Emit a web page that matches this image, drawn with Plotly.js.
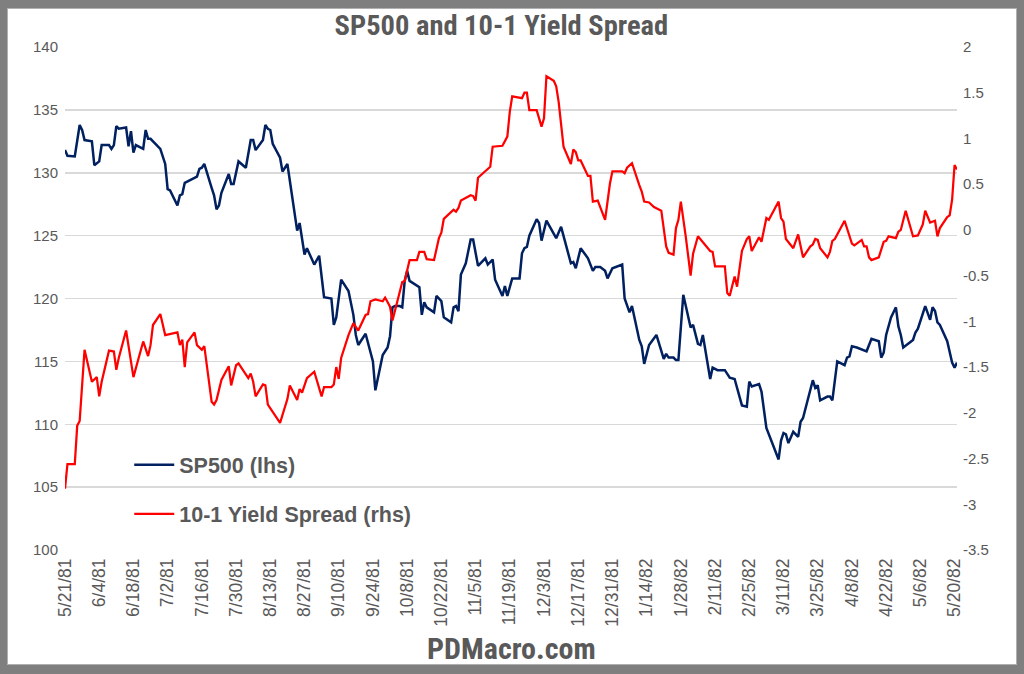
<!DOCTYPE html>
<html>
<head>
<meta charset="utf-8">
<script src="https://cdn.plot.ly/plotly-3.0.1.min.js"></script>
<style>
  html, body { margin: 0; padding: 0; width: 1024px; height: 674px; background: #7f7f7f; overflow: hidden; }
  #chart { position: absolute; left: 7px; top: 8px; width: 1010px; height: 657px; background: #ffffff; box-shadow: inset 0 0 0 1px #b0b0b0; }
</style>
</head>
<body>
<div id="chart"></div>
<script>
// ---- Data ----
const spDates = ['1981-05-21','1981-05-22','1981-05-25','1981-05-27','1981-05-28','1981-05-29','1981-06-01','1981-06-02','1981-06-04','1981-06-05',
'1981-06-08','1981-06-09','1981-06-10','1981-06-11','1981-06-12','1981-06-15','1981-06-16','1981-06-17','1981-06-18','1981-06-19',
'1981-06-22','1981-06-23','1981-06-24','1981-06-25','1981-06-29','1981-07-01','1981-07-02','1981-07-03','1981-07-06','1981-07-07',
'1981-07-08','1981-07-09','1981-07-14','1981-07-15','1981-07-16','1981-07-17','1981-07-20','1981-07-21','1981-07-22','1981-07-23',
'1981-07-24','1981-07-27','1981-07-28','1981-07-29','1981-07-31','1981-08-03','1981-08-05','1981-08-06','1981-08-07','1981-08-10',
'1981-08-11','1981-08-12','1981-08-13','1981-08-14','1981-08-17','1981-08-18','1981-08-20','1981-08-22','1981-08-24','1981-08-25',
'1981-08-27','1981-08-28','1981-08-31','1981-09-02','1981-09-04','1981-09-07','1981-09-08','1981-09-09','1981-09-11','1981-09-14',
'1981-09-16','1981-09-17','1981-09-18','1981-09-21','1981-09-23','1981-09-24','1981-09-25','1981-09-28','1981-09-30','1981-10-01',
'1981-10-02','1981-10-03','1981-10-05','1981-10-06','1981-10-07','1981-10-08','1981-10-09','1981-10-13','1981-10-14','1981-10-15',
'1981-10-16','1981-10-19','1981-10-20','1981-10-22','1981-10-23','1981-10-26','1981-10-27','1981-10-28','1981-10-29','1981-10-30',
'1981-11-01','1981-11-03','1981-11-04','1981-11-06','1981-11-09','1981-11-10','1981-11-12','1981-11-13','1981-11-16','1981-11-17',
'1981-11-18','1981-11-20','1981-11-23','1981-11-24','1981-11-25','1981-11-26','1981-11-27','1981-11-30','1981-12-01','1981-12-02',
'1981-12-04','1981-12-08','1981-12-10','1981-12-14','1981-12-15','1981-12-16','1981-12-18','1981-12-21','1981-12-23','1981-12-24',
'1981-12-26','1981-12-28','1981-12-29','1981-12-31','1982-01-04','1982-01-05','1982-01-07','1982-01-08','1982-01-11','1982-01-12',
'1982-01-13','1982-01-15','1982-01-18','1982-01-20','1982-01-21','1982-01-22','1982-01-23','1982-01-25','1982-01-26','1982-01-27',
'1982-01-29','1982-02-01','1982-02-02','1982-02-04','1982-02-05','1982-02-06','1982-02-09','1982-02-10','1982-02-12','1982-02-15',
'1982-02-17','1982-02-19','1982-02-22','1982-02-24','1982-02-25','1982-02-26','1982-03-01','1982-03-02','1982-03-03','1982-03-04',
'1982-03-09','1982-03-10','1982-03-11','1982-03-12','1982-03-13','1982-03-15','1982-03-17','1982-03-18','1982-03-19','1982-03-23',
'1982-03-24','1982-03-25','1982-03-26','1982-03-29','1982-03-30','1982-03-31','1982-04-02','1982-04-05','1982-04-06','1982-04-07',
'1982-04-08','1982-04-10','1982-04-14','1982-04-16','1982-04-19','1982-04-20','1982-04-21','1982-04-22','1982-04-24','1982-04-26',
'1982-04-27','1982-04-28','1982-04-29','1982-05-01','1982-05-03','1982-05-04','1982-05-05','1982-05-08','1982-05-10','1982-05-11',
'1982-05-12','1982-05-13','1982-05-14','1982-05-17','1982-05-19','1982-05-20','1982-05-21'];
const spValues = [131.8,131.35,131.3,133.8,133.4,132.6,132.5,130.6,130.9,132.2,
132.2,131.9,132.2,133.7,133.5,133.6,132.1,133.3,131.6,132.2,
131.9,133.4,132.7,132.7,131.9,130.7,128.7,128.6,127.4,128.2,
128.3,129.2,129.7,130.3,130.4,130.7,128.8,128.2,127.1,127.4,
128.4,129.9,129.1,129.1,130.9,130.4,132.6,132.6,131.8,132.6,
133.8,133.5,133.4,132.3,131.2,130.1,130.7,128.0,125.4,126.0,
123.5,124.0,122.7,123.4,120.1,120.0,117.9,118.5,121.5,120.6,
118.7,117.1,116.3,117.2,115.7,115.0,112.7,115.5,116.1,117.0,
119.3,119.4,119.4,119.3,121.4,122.2,121.4,120.9,118.7,119.7,
119.3,118.9,120.2,119.8,118.5,118.1,119.3,119.4,119.0,121.9,
122.8,124.7,124.7,122.6,123.2,122.7,123.1,121.5,120.2,121.0,
120.2,121.6,121.6,123.6,124.0,124.1,125.0,126.3,126.0,124.6,
126.2,124.8,125.7,122.8,122.9,122.4,124.0,123.2,122.2,122.5,
122.5,122.2,121.6,122.4,122.7,120.0,118.9,119.4,116.7,116.2,
114.8,116.3,117.1,115.7,115.2,115.6,115.3,115.3,115.1,115.1,
120.3,117.7,117.9,116.4,116.3,117.1,113.6,114.5,114.3,114.3,
113.7,113.6,111.5,111.4,113.4,113.0,113.2,112.6,110.9,109.7,
107.2,108.7,109.3,109.2,108.5,109.4,109.0,110.2,110.5,113.5,
112.9,113.1,111.9,112.2,112.2,111.9,115.0,114.7,115.3,115.4,
116.2,116.1,115.8,116.8,116.6,115.3,115.7,117.1,118.5,119.3,
117.8,117.1,116.1,116.4,116.7,117.3,117.6,119.4,118.3,119.3,
119.0,118.1,117.9,116.6,114.9,114.5,114.9];

const spreadDates = ['1981-05-21','1981-05-22','1981-05-25','1981-05-26','1981-05-27','1981-05-29','1981-06-01','1981-06-03','1981-06-04','1981-06-05',
'1981-06-08','1981-06-10','1981-06-11','1981-06-12','1981-06-15','1981-06-18','1981-06-22','1981-06-24','1981-06-25','1981-06-26',
'1981-06-29','1981-07-01','1981-07-06','1981-07-07','1981-07-08','1981-07-09','1981-07-10','1981-07-13','1981-07-14','1981-07-15',
'1981-07-16','1981-07-17','1981-07-20','1981-07-21','1981-07-22','1981-07-24','1981-07-25','1981-07-27','1981-07-28','1981-07-30',
'1981-07-31','1981-08-04','1981-08-05','1981-08-06','1981-08-07','1981-08-10','1981-08-11','1981-08-12','1981-08-17','1981-08-20',
'1981-08-21','1981-08-24','1981-08-25','1981-08-26','1981-08-28','1981-08-31','1981-09-03','1981-09-04','1981-09-07','1981-09-08',
'1981-09-09','1981-09-10','1981-09-11','1981-09-14','1981-09-16','1981-09-18','1981-09-21','1981-09-22','1981-09-23','1981-09-25',
'1981-09-28','1981-09-29','1981-10-01','1981-10-02','1981-10-06','1981-10-07','1981-10-09','1981-10-12','1981-10-13','1981-10-15',
'1981-10-16','1981-10-19','1981-10-21','1981-10-22','1981-10-23','1981-10-27','1981-10-28','1981-10-29','1981-10-30','1981-11-03',
'1981-11-04','1981-11-05','1981-11-06','1981-11-11','1981-11-12','1981-11-16','1981-11-18','1981-11-19','1981-11-20','1981-11-24',
'1981-11-25','1981-11-26','1981-11-27','1981-11-30','1981-12-01','1981-12-02','1981-12-03','1981-12-04','1981-12-07','1981-12-08',
'1981-12-09','1981-12-11','1981-12-14','1981-12-15','1981-12-16','1981-12-17','1981-12-18','1981-12-21','1981-12-22','1981-12-23',
'1981-12-25','1981-12-28','1981-12-30','1981-12-31','1982-01-04','1982-01-05','1982-01-06','1982-01-08','1982-01-11','1982-01-12',
'1982-01-13','1982-01-15','1982-01-17','1982-01-20','1982-01-22','1982-01-23','1982-01-25','1982-01-26','1982-01-27','1982-01-28',
'1982-01-30','1982-02-01','1982-02-02','1982-02-04','1982-02-09','1982-02-10','1982-02-11','1982-02-15','1982-02-16','1982-02-17',
'1982-02-19','1982-02-20','1982-02-22','1982-02-24','1982-02-25','1982-02-26','1982-03-01','1982-03-02','1982-03-04','1982-03-05',
'1982-03-09','1982-03-10','1982-03-11','1982-03-12','1982-03-15','1982-03-17','1982-03-19','1982-03-22','1982-03-23','1982-03-24',
'1982-03-25','1982-03-26','1982-03-29','1982-03-30','1982-03-31','1982-04-01','1982-04-05','1982-04-07','1982-04-08','1982-04-09',
'1982-04-12','1982-04-13','1982-04-14','1982-04-15','1982-04-16','1982-04-19','1982-04-21','1982-04-22','1982-04-23','1982-04-26',
'1982-04-27','1982-04-28','1982-04-30','1982-05-03','1982-05-05','1982-05-07','1982-05-08','1982-05-10','1982-05-12','1982-05-13',
'1982-05-14','1982-05-17','1982-05-18','1982-05-19','1982-05-20','1982-05-21'];
const spreadValues = [-2.83,-2.56,-2.56,-2.14,-2.09,-1.31,-1.66,-1.61,-1.82,-1.66,
-1.32,-1.33,-1.53,-1.40,-1.10,-1.61,-1.22,-1.38,-1.26,-1.04,
-0.92,-1.15,-1.12,-1.26,-1.20,-1.50,-1.23,-1.12,-1.26,-1.28,
-1.31,-1.27,-1.88,-1.91,-1.86,-1.64,-1.59,-1.49,-1.70,-1.48,
-1.46,-1.62,-1.57,-1.66,-1.82,-1.69,-1.70,-1.91,-2.11,-1.85,
-1.70,-1.86,-1.74,-1.78,-1.62,-1.55,-1.82,-1.72,-1.72,-1.69,
-1.50,-1.63,-1.40,-1.15,-1.02,-1.10,-0.93,-0.92,-0.78,-0.76,
-0.78,-0.74,-0.84,-0.99,-0.57,-0.56,-0.33,-0.33,-0.24,-0.24,
-0.32,-0.33,-0.09,-0.03,0.12,0.22,0.20,0.24,0.32,0.38,
0.37,0.32,0.57,0.69,0.91,0.92,1.02,1.29,1.46,1.44,
1.50,1.50,1.31,1.31,1.22,1.13,1.22,1.68,1.63,1.57,
1.40,0.91,0.72,0.88,0.85,0.76,0.76,0.59,0.59,0.31,
0.32,0.11,0.51,0.64,0.64,0.62,0.68,0.73,0.49,0.42,
0.31,0.30,0.25,0.21,-0.18,-0.25,-0.27,0.02,0.11,0.31,
-0.07,-0.50,-0.26,-0.07,-0.23,-0.24,-0.40,-0.40,-0.69,-0.72,
-0.51,-0.62,-0.23,-0.10,-0.07,-0.23,-0.08,-0.13,0.13,0.11,
0.31,0.13,0.09,-0.10,-0.20,-0.05,-0.30,-0.18,-0.16,-0.10,
-0.11,-0.20,-0.30,-0.24,-0.12,-0.10,0.10,-0.07,-0.15,-0.17,
-0.11,-0.18,-0.18,-0.30,-0.33,-0.30,-0.13,-0.12,-0.07,-0.09,
-0.02,0.00,0.21,-0.07,-0.06,0.06,0.21,0.08,0.10,-0.07,
0.02,0.14,0.16,0.33,0.71,0.66];

const leftTicks = [100,105,110,115,120,125,130,135,140];
const rightTickVals = [-3.5,-3,-2.5,-2,-1.5,-1,-0.5,0,0.5,1,1.5,2];
const rightTickText = ['-3.5','-3','-2.5','-2','-1.5','-1','-0.5','0','0.5','1','1.5','2'];
const seriesNames = ['SP500 (lhs)', '10-1 Yield Spread (rhs)'];
const chartTitle = 'SP500 and 10-1 Yield Spread';
const sourceText = 'PDMacro.com';

// ---- Chart ----
const grey = '#595959';
const narrow = "'Liberation Sans Narrow', 'Arial Narrow', 'Roboto Condensed', sans-serif";
const regular = "'Liberation Sans', Arial, sans-serif";

const traces = [
  { x: spDates, y: spValues, name: seriesNames[0], type: 'scatter', mode: 'lines',
    line: { color: '#002060', width: 2.5 }, yaxis: 'y', legendgroup: 'a' },
  { x: spreadDates, y: spreadValues, name: seriesNames[1], type: 'scatter', mode: 'lines',
    line: { color: '#ff0000', width: 2.25 }, yaxis: 'y2', legendgroup: 'b' }
];

const layout = {
  width: 1010, height: 657,
  margin: { l: 58, r: 60, t: 39, b: 115 },
  paper_bgcolor: 'rgba(0,0,0,0)',
  plot_bgcolor: '#ffffff',
  title: { text: chartTitle, x: 0.4895, xanchor: 'center', y: 0.974, yref: 'container', yanchor: 'middle',
           font: { family: narrow, size: 28.5, color: grey, weight: 700 } },
  xaxis: {
    type: 'date',
    range: [spDates[0], spDates[spDates.length - 1]],
    tick0: spDates[0], dtick: 14 * 86400000,
    tickformat: '%-m/%-d/%y', tickangle: -90,
    tickfont: { family: regular, size: 17.5, color: grey },
    showgrid: false, zeroline: false, showline: false, ticks: '',
    ticklabelstandoff: 4
  },
  yaxis: {
    range: [100, 140], tickvals: leftTicks,
    tickfont: { family: regular, size: 15, color: grey },
    showgrid: true, gridcolor: '#d9d9d9', gridwidth: 1.5,
    zeroline: false, showline: false, ticks: '', ticklabelstandoff: 6
  },
  yaxis2: {
    overlaying: 'y', side: 'right',
    range: [-3.5, 2], tickvals: rightTickVals, ticktext: rightTickText,
    tickfont: { family: regular, size: 15, color: grey },
    showgrid: false, zeroline: false, showline: false, ticks: '', ticklabelstandoff: 5
  },
  showlegend: true,
  legend: {
    x: 0.072, y: 0.21, xanchor: 'left', yanchor: 'top',
    bgcolor: 'rgba(0,0,0,0)', borderwidth: 0,
    traceorder: 'grouped', tracegroupgap: 18, itemwidth: 40,
    font: { family: regular, size: 21.5, color: grey, weight: 700 }
  },
  annotations: [
    { text: sourceText, xref: 'paper', yref: 'paper', x: 0.5, y: -0.195, xanchor: 'center', yanchor: 'middle',
      showarrow: false, font: { family: narrow, size: 30, color: grey, weight: 700 } }
  ]
};

Plotly.newPlot('chart', traces, layout, { displayModeBar: false, staticPlot: true });
</script>
</body>
</html>
